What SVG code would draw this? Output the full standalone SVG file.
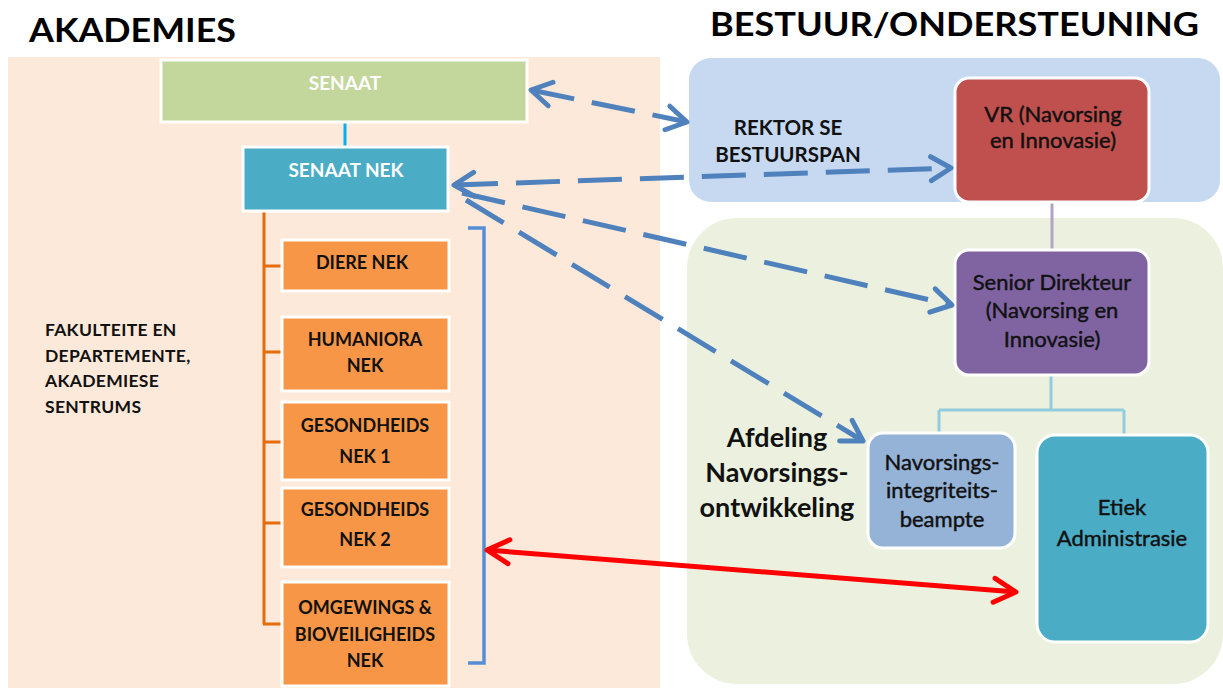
<svg xmlns="http://www.w3.org/2000/svg" width="1223" height="688" viewBox="0 0 1223 688">
<style>
text{font-family:Lato,"Open Sans","Liberation Sans",sans-serif}
.title{font-size:33px;font-weight:700;fill:#000}
.wb{font-size:19px;font-weight:700;fill:#fff;text-anchor:middle}
.ob{font-size:18px;font-weight:700;fill:#111;text-anchor:middle}
.lb{font-size:17.5px;font-weight:700;fill:#111;letter-spacing:0.3px}
.rn{font-size:22px;fill:#111;stroke:#111;stroke-width:0.45px;text-anchor:middle}
.node{stroke:#fff;stroke-width:3}
.dash{fill:none;stroke:#4F81BD;stroke-width:5;stroke-dasharray:44 18}
</style>
<defs>
<marker id="bh" viewBox="-26 -16 30 32" markerUnits="userSpaceOnUse" markerWidth="30" markerHeight="32" refX="0" refY="0" orient="auto-start-reverse">
<path d="M-20,-12 L0,0 L-20,12" fill="none" stroke="#4F81BD" stroke-width="5" stroke-linecap="round" stroke-linejoin="round"/>
</marker>
<marker id="rh" viewBox="-26 -16 30 32" markerUnits="userSpaceOnUse" markerWidth="30" markerHeight="32" refX="0" refY="0" orient="auto-start-reverse">
<path d="M-22,-12 L0,0 L-22,12" fill="none" stroke="#FF0000" stroke-width="5" stroke-linecap="round" stroke-linejoin="round"/>
</marker>
</defs>
<rect width="1223" height="688" fill="#fff"/>
<g id="titles">
<text class="title" x="29" y="42" textLength="207" lengthAdjust="spacingAndGlyphs">AKADEMIES</text>
<text class="title" x="710" y="36" textLength="489" lengthAdjust="spacingAndGlyphs">BESTUUR/ONDERSTEUNING</text>
</g>
<g id="regions">
<rect id="akademies-area" x="8" y="57" width="652" height="631" fill="#FDE9D9"/>
<rect id="rektor-area" x="689" y="58" width="531" height="144" rx="22" fill="#C6D9F1"/>
<rect id="ondersteuning-area" x="687" y="218" width="536" height="466" rx="50" fill="#EBF1DE"/>
</g>
<g id="lines">
<line x1="345" y1="123" x2="345" y2="146" stroke="#00B0F0" stroke-width="3"/>
<path d="M264,212 V624 M263,266 H282 M263,352 H282 M263,442 H282 M263,523 H282 M263,624 H282" fill="none" stroke="#E46C0A" stroke-width="3"/>
<path d="M468,228 H484 V663 H468" fill="none" stroke="#558ED5" stroke-width="3.5"/>
<line x1="1052" y1="202" x2="1052" y2="250" stroke="#B3A2C7" stroke-width="3"/>
<path d="M1051,375 V410 M939,410 H1124 M939,410 V433 M1124,410 V435" fill="none" stroke="#93CDDD" stroke-width="3"/>
</g>
<g id="senaat">
<rect class="node" x="161" y="60" width="366" height="62" fill="#C3D69B"/>
<text class="wb" x="345" y="90">SENAAT</text>
</g>
<g id="senaat-nek">
<rect class="node" x="243" y="147" width="205" height="64" fill="#4BACC6"/>
<text class="wb" x="346" y="177">SENAAT NEK</text>
</g>
<g id="diere-nek">
<rect class="node" x="282" y="240" width="167" height="51" fill="#F79646"/>
<text class="ob" x="362" y="269">DIERE NEK</text>
</g>
<g id="humaniora-nek">
<rect class="node" x="282" y="317" width="167" height="74" fill="#F79646"/>
<text class="ob" x="365" y="346">HUMANIORA</text>
<text class="ob" x="365" y="372">NEK</text>
</g>
<g id="gesondheids-nek-1">
<rect class="node" x="282" y="402" width="167" height="78" fill="#F79646"/>
<text class="ob" x="365" y="432">GESONDHEIDS</text>
<text class="ob" x="365" y="463">NEK 1</text>
</g>
<g id="gesondheids-nek-2">
<rect class="node" x="282" y="488" width="167" height="79" fill="#F79646"/>
<text class="ob" x="365" y="516">GESONDHEIDS</text>
<text class="ob" x="365" y="546">NEK 2</text>
</g>
<g id="omgewings-nek">
<rect class="node" x="282" y="582" width="167" height="104" fill="#F79646"/>
<text class="ob" x="365" y="614">OMGEWINGS &amp;</text>
<text class="ob" x="365" y="641">BIOVEILIGHEIDS</text>
<text class="ob" x="365" y="667">NEK</text>
</g>
<g id="fakulteite-label">
<text class="lb" x="45" y="336">FAKULTEITE EN</text>
<text class="lb" x="45" y="362">DEPARTEMENTE,</text>
<text class="lb" x="45" y="387">AKADEMIESE</text>
<text class="lb" x="45" y="413">SENTRUMS</text>
</g>
<g id="rektor-label">
<text x="788" y="135" font-size="20.5" font-weight="700" fill="#111" text-anchor="middle">REKTOR SE</text>
<text x="788" y="162" font-size="20.5" font-weight="700" fill="#111" text-anchor="middle">BESTUURSPAN</text>
</g>
<g id="vr">
<rect class="node" x="955" y="78" width="194" height="124" rx="14" fill="#C0504D"/>
<text class="rn" x="1053" y="122">VR (Navorsing</text>
<text class="rn" x="1053" y="148">en Innovasie)</text>
</g>
<g id="senior-direkteur">
<rect class="node" x="955" y="250" width="194" height="125" rx="14" fill="#8064A2"/>
<text class="rn" x="1052" y="290">Senior Direkteur</text>
<text class="rn" x="1052" y="318">(Navorsing en</text>
<text class="rn" x="1052" y="347">Innovasie)</text>
</g>
<g id="afdeling-label">
<text x="777" y="447" font-size="27" font-weight="700" fill="#111" text-anchor="middle">Afdeling</text>
<text x="777" y="482" font-size="27" font-weight="700" fill="#111" text-anchor="middle">Navorsings-</text>
<text x="777" y="517" font-size="27" font-weight="700" fill="#111" text-anchor="middle">ontwikkeling</text>
</g>
<g id="navorsingsintegriteitsbeampte">
<rect class="node" x="868" y="433" width="147" height="115" rx="15" fill="#95B3D7"/>
<text class="rn" x="942" y="470">Navorsings-</text>
<text class="rn" x="942" y="498">integriteits-</text>
<text class="rn" x="942" y="527">beampte</text>
</g>
<g id="etiek-administrasie">
<rect class="node" x="1037" y="435" width="171" height="207" rx="18" fill="#4BACC6"/>
<text class="rn" x="1122" y="515">Etiek</text>
<text class="rn" x="1122" y="546">Administrasie</text>
</g>
<g id="connectors">
<line class="dash" x1="531" y1="90" x2="687" y2="122" marker-start="url(#bh)" marker-end="url(#bh)"/>
<line class="dash" x1="454" y1="185" x2="951" y2="168" marker-start="url(#bh)" marker-end="url(#bh)"/>
<line class="dash" x1="462" y1="193" x2="952" y2="305" marker-end="url(#bh)"/>
<line class="dash" x1="466" y1="200" x2="863" y2="441" marker-end="url(#bh)"/>
<line x1="487" y1="550" x2="1016" y2="592" stroke="#FF0000" stroke-width="5" marker-start="url(#rh)" marker-end="url(#rh)"/>
</g>
</svg>
